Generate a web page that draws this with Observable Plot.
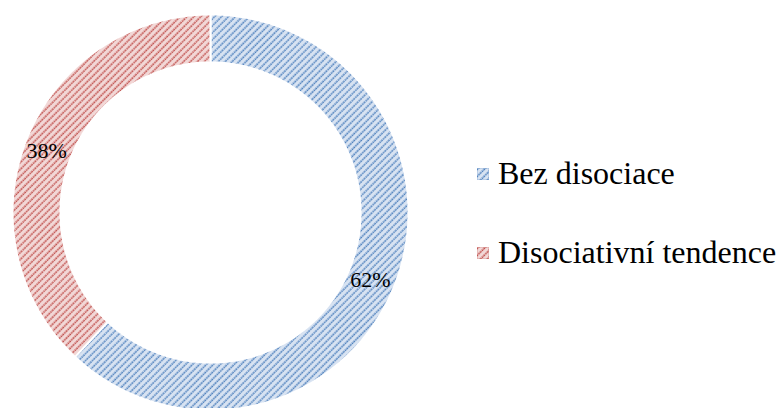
<!DOCTYPE html>
<html>
<head>
<meta charset="utf-8">
<script src="https://cdn.jsdelivr.net/npm/d3@7"></script>
<script src="https://cdn.jsdelivr.net/npm/@observablehq/plot@0.6"></script>
<style>
  html, body { margin: 0; padding: 0; background: #fff; }
  #wrap { position: relative; width: 777px; height: 408px; overflow: hidden; }
  #chart svg { display: block; }
  .leg { position: absolute; left: 477px; font-family: "Liberation Serif", "Times New Roman", Tinos, "DejaVu Serif"; font-size: 32px; line-height: 32px; color: #000; white-space: nowrap; }
  .leg svg { position: absolute; left: 0; top: 11px; }
  .leg span { position: absolute; left: 21px; top: 0; }
</style>
</head>
<body>
<div id="wrap">
  <div id="chart"></div>
</div>
<script>
// ---- data ----
const categories = ["Bez disociace", "Disociativní tendence"];
const values = [62, 38];
const labels = ["62%", "38%"];
const darkColors = ["#4f81bd", "#c0504d"];
const lightColors = ["#d8e3f2", "#f2d8d7"];

// ---- geometry (unit space: outer radius 1) ----
const innerR = 0.758;
const labelR = 0.879;
const pie = d3.pie().sort(null)(values);

function ringPolygon(a0, a1) {
  const n = Math.max(8, Math.ceil((a1 - a0) / (Math.PI / 360)));
  const pts = [];
  for (let i = 0; i <= n; i++) {
    const a = a0 + (a1 - a0) * i / n;
    pts.push([Math.sin(a), Math.cos(a)]);
  }
  for (let i = n; i >= 0; i--) {
    const a = a0 + (a1 - a0) * i / n;
    pts.push([innerR * Math.sin(a), innerR * Math.cos(a)]);
  }
  pts.push(pts[0]);
  return pts;
}

const slices = pie.map((p, i) => ({
  type: "Feature",
  properties: {category: categories[i], fill: `url(#pat${i})`},
  geometry: {type: "Polygon", coordinates: [ringPolygon(p.startAngle, p.endAngle)]}
}));

const labelData = pie.map((p, i) => {
  const m = (p.startAngle + p.endAngle) / 2;
  return {x: labelR * Math.sin(m), y: labelR * Math.cos(m), text: labels[i]};
});

// ---- layout ----
const W = 777, H = 408;
const CX = 210, CY = 212, R = 198;
const projection = d3.geoTransform({
  point(x, y) { this.stream.point(CX + x * R, CY - y * R); }
});

function patternDefs() {
  const defs = d3.create("svg:defs");
  darkColors.forEach((c, i) => {
    const s = 4.9;
    const p = defs.append("pattern")
      .attr("id", `pat${i}`)
      .attr("patternUnits", "userSpaceOnUse")
      .attr("width", s).attr("height", s)
      .attr("patternTransform", "rotate(45)");
    p.append("rect").attr("width", s).attr("height", s).attr("fill", lightColors[i]);
    p.append("line").attr("x1", 1.2).attr("x2", 1.2).attr("y1", 0).attr("y2", s)
      .attr("stroke", c).attr("stroke-width", 1.6).attr("stroke-dasharray", "1.6 0.85");
  });
  return defs.node();
}

const serif = "'Liberation Serif', 'Times New Roman', Tinos, 'DejaVu Serif'";

const plot = Plot.plot({
  width: W,
  height: H,
  margin: 0,
  projection,
  color: {type: "identity"},
  style: {background: "transparent"},
  marks: [
    patternDefs,
    Plot.geo(slices, {fill: d => d.properties.fill, stroke: "white", strokeWidth: 2}),
    Plot.text(labelData, {
      x: "x", y: "y", text: "text",
      fontSize: 22, fontFamily: serif, dy: 3, dx: -2,
      fill: "#000", textAnchor: "middle"
    })
  ]
});
document.getElementById("chart").appendChild(plot);

// ---- legend ----
const wrap = document.getElementById("wrap");
const legendTops = [157, 236];
categories.forEach((c, i) => {
  const row = document.createElement("div");
  row.className = "leg";
  row.style.top = legendTops[i] + "px";
  row.innerHTML = `<svg width="12" height="12"><rect width="12" height="12" fill="url(#pat${i})" stroke="${darkColors[i]}" stroke-opacity="0.4" stroke-width="1"/></svg><span></span>`;
  row.querySelector("span").textContent = c;
  wrap.appendChild(row);
});
</script>
</body>
</html>
